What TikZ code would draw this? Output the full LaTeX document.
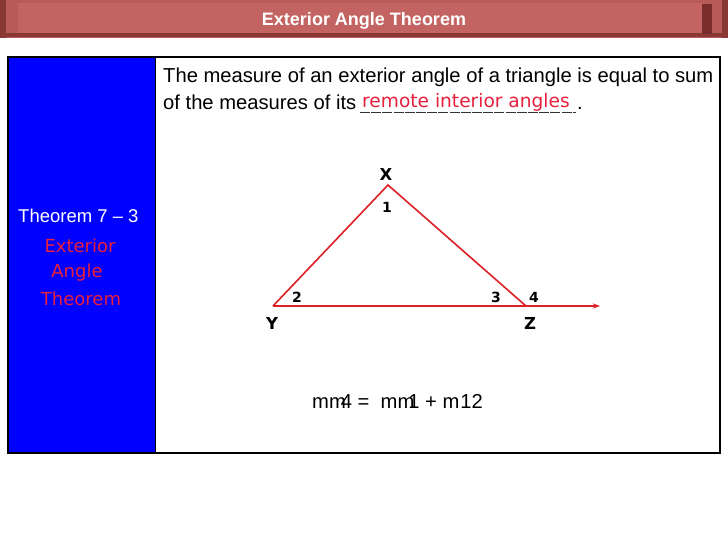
\documentclass[tikz,border=0pt]{standalone}
\usepackage{fontspec}
\setmainfont{Liberation Sans}
\newfontfamily\comic{DejaVu Sans}
\usetikzlibrary{arrows.meta}
\definecolor{hdrA}{HTML}{B85A58}
\definecolor{hdrB}{HTML}{C46462}
\definecolor{hdrD}{HTML}{8A3836}
\definecolor{hdrE}{HTML}{7A2E2C}
\definecolor{colblue}{HTML}{0000FF}
\definecolor{comicred}{HTML}{E8203C}
\definecolor{trired}{HTML}{DD1F26}
\tikzset{
  body/.style={font=\fontsize{20.2}{24}\selectfont, inner sep=0pt},
  vlabel/.style={font=\comic\bfseries\fontsize{16.5}{19}\selectfont, inner sep=0pt},
  nlabel/.style={font=\comic\bfseries\fontsize{14}{17}\selectfont, inner sep=0pt},
  side/.style={draw=trired, line width=1.6pt},
  redtxt/.style={font=\comic\fontsize{18}{21}\selectfont, text=comicred, inner sep=0pt}
}
\begin{document}
\begin{tikzpicture}[x=1pt,y=-1pt]
\useasboundingbox (0,0) rectangle (728,546);
\fill[white] (0,0) rectangle (728,546);
% header band
\fill[hdrA] (0,0) rectangle (728,38);
\fill[hdrD] (0,0) rectangle (6,38);
\fill[hdrB] (18,3) rectangle (702,33);
\fill[hdrD] (0,33) rectangle (728,37);
\fill[hdrE] (702,4) rectangle (712,34);
\fill[hdrD] (722,0) rectangle (728,38);
\node[font=\bfseries\fontsize{18}{21}\selectfont, text=white, inner sep=0pt] (title) at (364,21) {Exterior Angle Theorem};
% main box
\fill[colblue] (8,57) rectangle (155,453);
\draw[line width=1.6pt] (8,57) rectangle (720,453);
\draw[line width=0.8pt] (155,57) -- (155,453);
% left column text
\node[text=white, font=\fontsize{18.5}{22}\selectfont, inner sep=0pt, anchor=base west] (thm) at (18,222) {Theorem 7 – 3};
\node[redtxt, anchor=base] (ext) at (80,252) {Exterior};
\node[redtxt, anchor=base] (ang) at (77,277) {Angle};
\node[redtxt, anchor=base] (thr) at (81,305) {Theorem};
% statement
\node[body, anchor=base west] (line1) at (163,82) {The measure of an exterior angle of a triangle is equal to sum};
\node[body, anchor=base west] (line2) at (163,109) {of the measures of its};
\coordinate (ulA) at (360,112);
\coordinate (ulB) at (576,112);
\draw[line width=0.9pt, black!80, dash pattern=on 10pt off 1.2pt] (ulA) -- (ulB);
\node[body, anchor=base west] (dot) at (577,109) {.};
\node[redtxt, font=\comic\fontsize{18.6}{21}\selectfont, anchor=base west] (remote) at (362,107) {remote interior angles};
% triangle
\coordinate (X) at (388,185);
\coordinate (Y) at (273,306);
\coordinate (Z) at (526,306);
\coordinate (R) at (600,306);
\draw[side] (Y) -- (X) -- (Z);
\draw[side, -{Stealth[length=7pt,width=5pt]}] (Y) -- (R);
\node[vlabel] (lx) at (386,174) {X};
\node[vlabel] (ly) at (272,323) {Y};
\node[vlabel] (lz) at (530,323) {Z};
\node[nlabel] (n1) at (387,207) {1};
\node[nlabel] (n2) at (297,297) {2};
\node[nlabel] (n3) at (496,297) {3};
\node[nlabel] (n4) at (534,297) {4};
% formula
\node[body, anchor=base west] (formula) at (312,408) {mm\kern-5pt4 =\ \ mm\kern-6pt1\ + m\kern1pt12};
\end{tikzpicture}
\end{document}
